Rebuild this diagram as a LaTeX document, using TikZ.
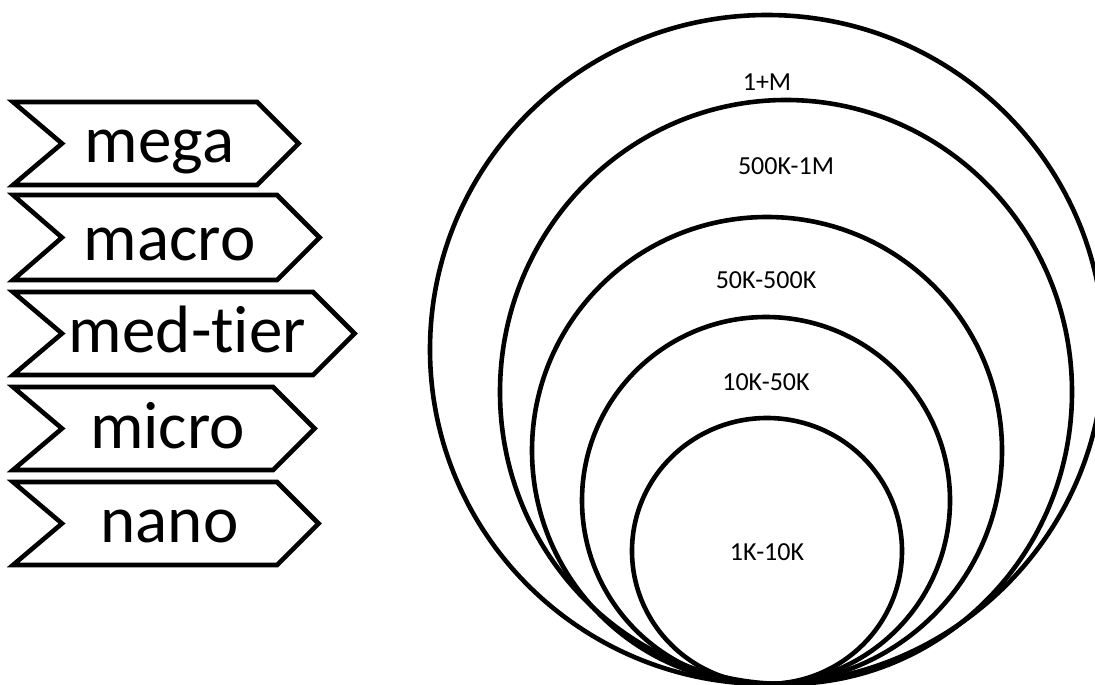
\documentclass[tikz,border=0pt]{standalone}
\usepackage{fontspec}
\setmainfont{Carlito}[Ligatures=NoCommon]
\newcommand\chevronbox[6]{% name, top, bottom, right corner x, baseline, text
  \draw[chevline] (13,#2) -- (#4,#2) -- ({#4+(#3-#2)/2},{(#2+#3)/2}) -- (#4,#3)
    -- (13,#3) -- (62,{(#2+#3)/2}) -- cycle;
  \node[bigtext] (#1) at ({(62+#4)/2},#5) {#6};
}
\begin{document}
\begin{tikzpicture}[x=1pt,y=-1pt,
  chevline/.style={line width=4.6pt, line join=miter},
  ring/.style={line width=4.6pt},
  bigtext/.style={font=\fontsize{67}{70}\selectfont, anchor=base, inner sep=0pt},
  smalltext/.style={font=\fontsize{26}{30}\selectfont, anchor=base, inner sep=0pt}]
\fill[white] (0,0) rectangle (1095,685);
\useasboundingbox (0,0) rectangle (1095,685);
% chevrons
\chevronbox{mega}{102}{185}{257}{162}{mega}
\chevronbox{macro}{195}{280}{277}{260}{macro}
\chevronbox{medtier}{292}{375}{313}{352}{med-tier}
\chevronbox{micro}{387}{470}{273}{448}{micro}
\chevronbox{nano}{482}{565}{277}{542}{nano}
% nested rings
\draw[ring] (767,349.5) ellipse [x radius=337pt, y radius=334.5pt];
\draw[ring] (786,392) ellipse [x radius=286pt, y radius=292pt];
\draw[ring] (767,450.5) ellipse [x radius=235pt, y radius=233.5pt];
\draw[ring] (766,500.5) ellipse [x radius=184pt, y radius=183.5pt];
\draw[ring] (767,551) ellipse [x radius=135pt, y radius=133pt];
% labels
\node[smalltext] (l1) at (767,90) {1+M};
\node[smalltext] (l2) at (786,174) {500K-1M};
\node[smalltext] (l3) at (766,288) {50K-500K};
\node[smalltext] (l4) at (766,390) {10K-50K};
\node[smalltext] (l5) at (767,560) {1K-10K};
\end{tikzpicture}
\end{document}
